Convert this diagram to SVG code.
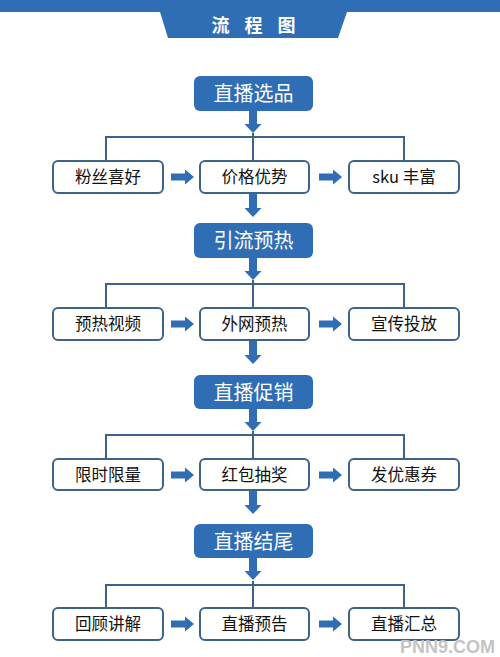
<svg xmlns="http://www.w3.org/2000/svg" width="500" height="657" viewBox="0 0 500 657">
<defs>
<style>
.main rect{fill:#2f6eb5;}
.main text{fill:#fff;font-family:"Noto Sans CJK SC","Liberation Sans",sans-serif;font-size:20px;text-anchor:middle;}
.sub rect{fill:#fff;stroke:#3e6388;stroke-width:2;}
.sub text{fill:#111;font-family:"Noto Sans CJK SC","Liberation Sans",sans-serif;font-size:16.5px;text-anchor:middle;}
.ln{fill:none;stroke:#3e6388;stroke-width:2;}
.ar{fill:#2f6eb5;}
</style>
<path id="down" d="M-4,0 H4 V13 H8.5 L0,22 L-8.5,13 H-4 Z"/>
<path id="down2" d="M-4,0 H4 V15 H8.5 L0,24 L-8.5,15 H-4 Z"/>
<path id="right" d="M0,-3.5 H14 V-7.5 L23,0 L14,7.5 V3.5 H0 Z"/>
</defs>
<rect width="500" height="657" fill="#fff"/>
<g id="header">
<rect x="0" y="0" width="500" height="12" fill="#2f6eb5"/>
<polygon points="160,0 347,0 347,12 338,38 168,38 160,12" fill="#2f6eb5"/>
<text x="261" y="32" fill="#fff" font-family="Noto Sans CJK SC,Liberation Sans,sans-serif" font-size="18" font-weight="bold" text-anchor="middle" letter-spacing="15">流程图</text>
</g>
<g id="connectors">
<g class="ln">
<path d="M106,161 V137 H404 V161 M253,133 V161"/>
<path d="M106,308 V284 H404 V308 M253,280 V308"/>
<path d="M106,459 V435 H404 V459 M253,431 V459"/>
<path d="M106,608 V585 H404 V608 M253,581 V608"/>
</g>
<g class="ar">
<use href="#down" x="253" y="111"/>
<use href="#down" x="253" y="258"/>
<use href="#down" x="253" y="409"/>
<use href="#down" x="253" y="558"/>
<use href="#down2" x="253" y="193"/>
<use href="#down2" x="253" y="340"/>
<use href="#down2" x="253" y="490"/>
<use href="#right" x="171" y="177"/>
<use href="#right" x="319" y="177"/>
<use href="#right" x="171" y="324"/>
<use href="#right" x="319" y="324"/>
<use href="#right" x="171" y="475"/>
<use href="#right" x="319" y="475"/>
<use href="#right" x="171" y="624"/>
<use href="#right" x="319" y="624"/>
</g>
</g>
<g id="n1" class="main"><rect x="194" y="76" width="119" height="35" rx="6"/><text x="253.5" y="101">直播选品</text></g>
<g id="n1a" class="sub"><rect x="53" y="161" width="110" height="32" rx="5"/><text x="108" y="183">粉丝喜好</text></g>
<g id="n1b" class="sub"><rect x="200" y="161" width="109" height="32" rx="5"/><text x="254.5" y="183">价格优势</text></g>
<g id="n1c" class="sub"><rect x="349" y="161" width="110" height="32" rx="5"/><text x="404" y="183">sku 丰富</text></g>
<g id="n2" class="main"><rect x="194" y="223" width="119" height="35" rx="6"/><text x="253.5" y="248">引流预热</text></g>
<g id="n2a" class="sub"><rect x="53" y="308" width="110" height="32" rx="5"/><text x="108" y="330">预热视频</text></g>
<g id="n2b" class="sub"><rect x="200" y="308" width="109" height="32" rx="5"/><text x="254.5" y="330">外网预热</text></g>
<g id="n2c" class="sub"><rect x="349" y="308" width="110" height="32" rx="5"/><text x="404" y="330">宣传投放</text></g>
<g id="n3" class="main"><rect x="194" y="375" width="119" height="34" rx="6"/><text x="253.5" y="399.5">直播促销</text></g>
<g id="n3a" class="sub"><rect x="53" y="459" width="110" height="31" rx="5"/><text x="108" y="481">限时限量</text></g>
<g id="n3b" class="sub"><rect x="200" y="459" width="109" height="31" rx="5"/><text x="254.5" y="481">红包抽奖</text></g>
<g id="n3c" class="sub"><rect x="349" y="459" width="110" height="31" rx="5"/><text x="404" y="481">发优惠券</text></g>
<g id="n4" class="main"><rect x="194" y="524" width="119" height="34" rx="6"/><text x="253.5" y="548.5">直播结尾</text></g>
<g id="n4a" class="sub"><rect x="53" y="608" width="110" height="32" rx="5"/><text x="108" y="630">回顾讲解</text></g>
<g id="n4b" class="sub"><rect x="200" y="608" width="109" height="32" rx="5"/><text x="254.5" y="630">直播预告</text></g>
<g id="n4c" class="sub"><rect x="349" y="608" width="110" height="32" rx="5"/><text x="404" y="630">直播汇总</text></g>
<text x="495" y="653" fill="#c4c4c4" font-family="Liberation Sans,sans-serif" font-weight="bold" font-size="18" text-anchor="end">PNN9.COM</text>
</svg>
